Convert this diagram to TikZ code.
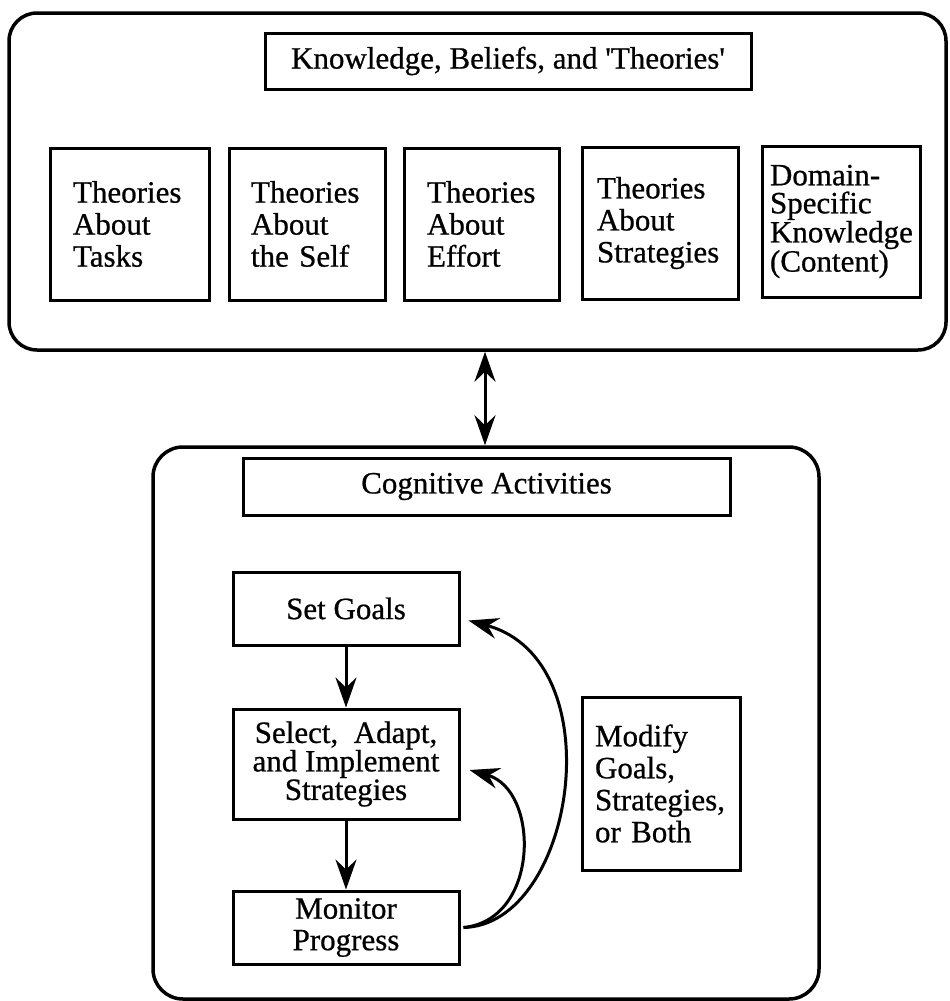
\documentclass[tikz,border=0pt]{standalone}
\usepackage{fontspec}
\setmainfont{Liberation Serif}[UprightFeatures={FakeBold=0.7}]
\usetikzlibrary{arrows.meta,calc}
\begin{document}
\begin{tikzpicture}[x=1pt,y=-1pt,
  outerbox/.style={draw,line width=3.5pt,rounded corners=28pt,inner sep=0pt},
  tbox/.style={draw,line width=3pt,align=left,font=\fontsize{31}{32}\selectfont,inner ysep=0pt},
  cbox/.style={draw,line width=3pt,align=center,font=\fontsize{31}{29}\selectfont,inner sep=0pt},
  tip/.style={Stealth[length=30pt,width=21pt,inset=10pt]},
  arr/.style={line width=3pt,-{Stealth[length=30pt,width=21pt,inset=10pt]}},
  darr/.style={line width=3pt,{Stealth[length=30pt,width=21pt,inset=10pt]}-{Stealth[length=30pt,width=21pt,inset=10pt]}}
]
\useasboundingbox (0,0) rectangle (950,1001);
% top group
\node[outerbox,minimum width=937pt,minimum height=337pt] (kb) at (477.5,181.5) {};
\node[cbox,minimum width=486pt,minimum height=56pt] (kbt) at (508,61) {Knowledge, Beliefs, and \textquotesingle Theories\textquotesingle};
\node[tbox,minimum height=152pt,inner xsep=23pt,text width=113pt] (t1) at (129.5,224) {Theories\\About\\Tasks};
\node[tbox,minimum height=152pt,inner xsep=22pt,text width=112pt] (t2) at (307,224) {Theories\\About\\the Self};
\node[tbox,minimum height=152pt,inner xsep=23pt,text width=109pt] (t3) at (481.5,224) {Theories\\About\\Effort};
\node[tbox,minimum height=152pt,inner xsep=15pt,text width=126pt] (t4) at (660,223) {Theories\\About\\Strategies};
\node[tbox,minimum height=151pt,inner xsep=8pt,text width=142pt,font=\fontsize{31}{28}\selectfont] (t5) at (841,221.5) {Domain-\\Specific\\Knowledge\\(Content)};
% bottom group
\node[outerbox,rounded corners=30pt,minimum width=666pt,minimum height=552pt] (ca) at (486,723) {};
\node[cbox,minimum width=487pt,minimum height=57pt] (cat) at (486.5,486.5) {Cognitive Activities};
\node[cbox,minimum width=226pt,minimum height=73pt] (goals) at (346,608.5) {Set Goals};
\node[cbox,minimum width=226pt,minimum height=110pt,font=\fontsize{31}{28.5}\selectfont] (sel) at (346,764) {Select,\ \ Adapt,\\and Implement\\Strategies};
\node[cbox,minimum width=226pt,minimum height=73pt,font=\fontsize{31}{31.5}\selectfont] (mon) at (346,927.5) {Monitor\\Progress};
\node[tbox,minimum height=173pt,inner xsep=13pt,text width=132pt] (mod) at (661,783.5) {Modify\\Goals,\\Strategies,\\or Both};
% connectors
\draw[darr] (kb.south -| 485,0) -- (ca.north -| 485,0);
\draw[arr] (goals.south) -- (sel.north);
\draw[arr] (sel.south) -- (mon.north);
\coordinate (g1) at ($(goals.east)+(8,12)$);
\coordinate (s1) at ($(sel.east)+(9,6)$);
\draw[arr] ($(mon.east)+(3,0)$) .. controls (575,925) and (615,660) .. (g1);
\draw[arr] ($(mon.east)+(3,0)$) .. controls (540,920) and (540,790) .. (s1);
\end{tikzpicture}
\end{document}
